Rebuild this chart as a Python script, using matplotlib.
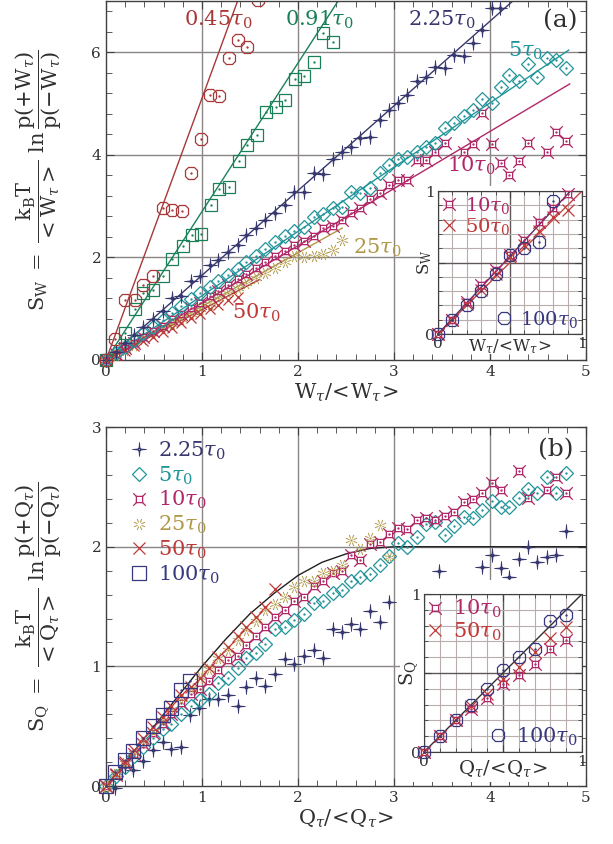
import numpy as np
import matplotlib
matplotlib.use('Agg')
import matplotlib.pyplot as plt
from matplotlib.path import Path
from matplotlib.patches import Rectangle
from matplotlib.ticker import MultipleLocator

plt.rcParams['font.family'] = ['DejaVu Serif']
plt.rcParams['mathtext.fontset'] = 'dejavuserif'

# colours
C045 = '#a83838'
C091 = '#1a8058'
C225 = '#383870'
C5 = '#20959a'
C10 = '#b02868'
C25 = '#b09848'
C50 = '#c03838'
C100 = '#383880'
GRID = '#8a8686'

# ---------------- panel (a) data ----------------
a045_x = [0, 0.09, 0.2, 0.3, 0.39, 0.49, 0.59, 0.69, 0.79, 0.89, 0.99, 1.08, 1.18, 1.28, 1.37, 1.47, 1.58]
a045_y = [0, 0.4, 1.17, 1.17, 1.46, 1.64, 2.96, 2.93, 2.91, 3.64, 4.3, 5.17, 5.15, 5.88, 6.24, 6.1, 7.02]

a091_x = [0, 0.2, 0.3, 0.39, 0.49, 0.59, 0.69, 0.8, 0.9, 0.99, 1.09, 1.18, 1.28, 1.38, 1.47, 1.57,
          1.67, 1.77, 1.86, 1.97, 2.06, 2.17, 2.26, 2.36]
a091_y = [0, 0.52, 1.0, 1.3, 1.36, 1.64, 1.96, 2.22, 2.44, 2.46, 3.02, 3.33, 3.37, 3.87, 4.19, 4.39,
          4.84, 4.94, 5.07, 5.47, 5.54, 5.8, 6.37, 6.2]

a225_x = [0, 0.1, 0.2, 0.29, 0.39, 0.49, 0.59, 0.69, 0.78, 0.88, 0.98, 1.08, 1.17, 1.27, 1.37, 1.46,
          1.56, 1.66, 1.76, 1.86, 1.96, 2.06, 2.17, 2.26, 2.36, 2.46, 2.55, 2.65, 2.75, 2.85, 2.95,
          3.04, 3.13, 3.24, 3.33, 3.43, 3.53, 3.62, 3.73, 3.82, 3.92, 4.02, 4.1]
a225_y = [0, 0.16, 0.33, 0.49, 0.64, 0.8, 0.96, 1.2, 1.25, 1.53, 1.64, 1.85, 1.95, 2.11, 2.24, 2.44,
          2.58, 2.72, 2.86, 3.02, 3.28, 3.28, 3.64, 3.63, 3.91, 4.06, 4.16, 4.32, 4.35, 4.68, 4.87,
          5.0, 5.17, 5.43, 5.51, 5.72, 5.69, 5.95, 5.93, 6.17, 6.43, 6.86, 6.86]

a5_x = [0, 0.1, 0.2, 0.29, 0.39, 0.49, 0.59, 0.69, 0.78, 0.88, 0.98, 1.08, 1.17, 1.27, 1.37, 1.46,
        1.56, 1.66, 1.76, 1.86, 1.96, 2.06, 2.17, 2.26, 2.36, 2.46, 2.55, 2.65, 2.75, 2.85, 2.95,
        3.04, 3.13, 3.24, 3.33, 3.43, 3.53, 3.62, 3.73, 3.82, 3.92, 4.02, 4.11, 4.2, 4.3, 4.4,
        4.49, 4.59, 4.69, 4.79]
a5_y = [0, 0.13, 0.26, 0.39, 0.52, 0.65, 0.78, 0.92, 1.05, 1.18, 1.3, 1.42, 1.53, 1.65, 1.78, 1.9,
        2.02, 2.16, 2.3, 2.42, 2.52, 2.6, 2.79, 2.85, 2.96, 2.99, 3.27, 3.25, 3.35, 3.64, 3.8,
        3.91, 3.96, 4.06, 4.16, 4.22, 4.52, 4.61, 4.76, 4.87, 5.08, 5.0, 5.33, 5.56, 5.43, 5.77,
        5.52, 5.88, 5.85, 5.69]

a10_x = [0, 0.1, 0.2, 0.29, 0.39, 0.49, 0.59, 0.69, 0.78, 0.88, 0.98, 1.08, 1.17, 1.27, 1.37, 1.46,
         1.56, 1.66, 1.76, 1.86, 1.96, 2.06, 2.17, 2.26, 2.36, 2.46, 2.55, 2.65, 2.75, 2.85, 2.95,
         3.04, 3.13, 3.24, 3.33, 3.43, 3.53, 3.73, 3.82, 3.92, 4.02, 4.11, 4.2, 4.3, 4.4, 4.59,
         4.69, 4.79]
a10_y = [0, 0.11, 0.23, 0.34, 0.45, 0.56, 0.67, 0.79, 0.9, 1.01, 1.12, 1.24, 1.35, 1.46, 1.57, 1.68,
         1.79, 1.9, 2.02, 2.13, 2.24, 2.31, 2.41, 2.57, 2.61, 2.73, 2.86, 2.96, 3.13, 3.25, 3.41,
         3.51, 3.51, 3.9, 3.9, 4.06, 4.22, 4.06, 4.21, 4.81, 4.2, 3.83, 3.61, 3.87, 4.22, 4.06,
         4.45, 4.26]

a25_x = [0, 0.1, 0.2, 0.29, 0.39, 0.49, 0.59, 0.69, 0.78, 0.88, 0.98, 1.08, 1.17, 1.27, 1.37, 1.46,
         1.56, 1.66, 1.76, 1.86, 1.96, 2.06, 2.17, 2.26, 2.36, 2.46]
a25_y = [0, 0.1, 0.2, 0.3, 0.4, 0.5, 0.6, 0.71, 0.8, 0.9, 1.0, 1.1, 1.2, 1.3, 1.4, 1.5,
         1.6, 1.7, 1.8, 1.9, 2.02, 2.0, 2.03, 2.06, 2.14, 2.33]

a50_x = [0, 0.1, 0.2, 0.29, 0.39, 0.49, 0.59, 0.69, 0.78, 0.88, 0.98, 1.08, 1.17, 1.27, 1.37]
a50_y = [0, 0.09, 0.18, 0.27, 0.36, 0.45, 0.54, 0.63, 0.72, 0.81, 0.9, 0.99, 1.08, 1.17, 1.22]

# straight-line fits (end points)
fit045 = ([0, 1.42], [0, 7.25])
fit091 = ([0, 2.47], [0, 7.15])
fit225 = ([0, 4.3], [0, 7.1])
fit5 = ([0, 4.82], [0, 6.04])
fit10 = ([0, 4.83], [0, 5.38])
fit25 = ([0, 2.46], [0, 2.57])
fit50 = ([0, 1.6], [0, 1.57])

# inset (a)
ia_x = [0, 0.1, 0.2, 0.3, 0.4, 0.5, 0.6, 0.7, 0.8, 0.9]
ia10_y = [0, 0.1, 0.225, 0.34, 0.45, 0.555, 0.66, 0.78, 0.88, 0.98]
ia50_y = [0, 0.1, 0.21, 0.31, 0.42, 0.54, 0.62, 0.72, 0.82, 0.87]
ia100_x = [0, 0.1, 0.2, 0.3, 0.4, 0.5, 0.6, 0.7, 0.8]
ia100_y = [0, 0.1, 0.2, 0.3, 0.42, 0.55, 0.6, 0.64, 0.93]
ia_line1 = ([0, 1.0], [0, 1.0])
ia_line2 = ([0, 0.92], [0, 1.0])

# ---------------- panel (b) data ----------------
b225_x = [0.09, 0.2, 0.28, 0.39, 0.49, 0.59, 0.68, 0.78, 0.87, 0.97, 1.07, 1.17, 1.27, 1.37, 1.46,
          1.56, 1.66, 1.76, 1.86, 1.96, 2.06, 2.17, 2.26, 2.36, 2.46, 2.55, 2.65, 2.75, 2.85, 2.95,
          3.47, 3.92, 4.02, 4.11, 4.2, 4.3, 4.4, 4.49, 4.59, 4.69, 4.79]
b225_y = [-0.02, 0.16, 0.13, 0.21, 0.3, 0.37, 0.31, 0.33, 0.59, 0.65, 0.73, 0.73, 0.76, 0.67, 0.83,
          0.9, 0.84, 0.94, 1.06, 1.02, 1.09, 1.14, 1.07, 1.31, 1.29, 1.35, 1.31, 1.46, 1.37, 1.54,
          1.8, 1.83, 1.93, 1.82, 1.75, 1.9, 2.0, 1.87, 1.91, 1.93, 2.13]

b5_x = [0, 0.1, 0.2, 0.29, 0.39, 0.49, 0.59, 0.68, 0.78, 0.88, 0.98, 1.07, 1.17, 1.27, 1.37, 1.46,
        1.56, 1.66, 1.76, 1.86, 1.96, 2.06, 2.17, 2.26, 2.36, 2.46, 2.55, 2.65, 2.75, 2.85, 2.95,
        3.04, 3.13, 3.24, 3.33, 3.43, 3.53, 3.62, 3.73, 3.82, 3.92, 4.02, 4.11, 4.2, 4.3, 4.4,
        4.49, 4.59, 4.69, 4.79]
b5_y = [0, 0.08, 0.16, 0.25, 0.33, 0.4, 0.48, 0.52, 0.6, 0.67, 0.72, 0.77, 0.86, 0.9, 0.99, 1.07,
        1.11, 1.19, 1.31, 1.33, 1.39, 1.44, 1.53, 1.55, 1.61, 1.64, 1.71, 1.75, 1.77, 1.85, 1.92,
        2.03, 2.0, 2.08, 2.19, 2.21, 2.1, 2.17, 2.25, 2.24, 2.31, 2.38, 2.33, 2.33, 2.41, 2.48,
        2.45, 2.58, 2.45, 2.62]

b10_x = [0, 0.1, 0.2, 0.29, 0.39, 0.49, 0.59, 0.68, 0.78, 0.88, 0.98, 1.07, 1.17, 1.27, 1.37, 1.46,
         1.56, 1.66, 1.76, 1.86, 1.96, 2.06, 2.17, 2.26, 2.36, 2.46, 2.55, 2.65, 2.75, 2.85, 2.95,
         3.04, 3.13, 3.24, 3.33, 3.43, 3.53, 3.62, 3.73, 3.82, 3.92, 4.02, 4.11, 4.3, 4.4, 4.59,
         4.69, 4.79]
b10_y = [0, 0.09, 0.18, 0.27, 0.35, 0.44, 0.52, 0.6, 0.69, 0.77, 0.81, 0.88, 0.97, 1.05, 1.09, 1.18,
         1.25, 1.33, 1.41, 1.47, 1.55, 1.58, 1.67, 1.71, 1.78, 1.8, 1.93, 1.89, 2.02, 2.04, 2.11,
         2.16, 2.15, 2.22, 2.24, 2.22, 2.26, 2.29, 2.37, 2.4, 2.45, 2.53, 2.47, 2.63, 2.41, 2.47,
         2.58, 2.45]

b25_x = [0, 0.1, 0.2, 0.29, 0.39, 0.49, 0.59, 0.68, 0.78, 0.88, 0.98, 1.07, 1.17, 1.27, 1.37, 1.46,
         1.56, 1.66, 1.76, 1.86, 1.96, 2.06, 2.17, 2.26, 2.36, 2.46, 2.55, 2.65, 2.75, 2.85, 2.95]
b25_y = [0, 0.1, 0.19, 0.28, 0.37, 0.46, 0.55, 0.64, 0.73, 0.82, 0.91, 0.98, 1.07, 1.14, 1.22, 1.3,
         1.38, 1.47, 1.52, 1.58, 1.66, 1.71, 1.71, 1.78, 1.8, 1.85, 2.06, 1.98, 2.07, 2.18, 1.91]

b50_x = [0, 0.1, 0.2, 0.29, 0.39, 0.49, 0.59, 0.68, 0.78, 0.88, 0.98, 1.07, 1.17, 1.27, 1.37, 1.46,
         1.56, 1.66, 1.76]
b50_y = [0, 0.1, 0.2, 0.3, 0.4, 0.49, 0.58, 0.67, 0.76, 0.83, 0.9, 0.99, 1.08, 1.16, 1.25, 1.33,
         1.41, 1.5, 1.65]

b100_x = [0, 0.09, 0.2, 0.28, 0.39, 0.49, 0.59, 0.68, 0.78, 0.87]
b100_y = [0, 0.12, 0.22, 0.29, 0.4, 0.5, 0.59, 0.65, 0.8, 0.88]

# theory curve
theo_x = [0, 0.25, 0.5, 0.75, 1.0, 1.25, 1.5, 1.75, 2.0, 2.25, 2.5, 2.75, 3.0, 5.0]
theo_y = [0, 0.25, 0.5, 0.75, 1.0, 1.23, 1.44, 1.61, 1.76, 1.87, 1.94, 1.985, 2.0, 2.0]

# inset (b)
ib_x = [0, 0.1, 0.2, 0.3, 0.4, 0.5, 0.6, 0.7, 0.8, 0.9]
ib100_y = [0, 0.1, 0.2, 0.3, 0.4, 0.52, 0.6, 0.65, 0.83, 0.87]
ib10_y = [0, 0.1, 0.2, 0.27, 0.34, 0.43, 0.49, 0.56, 0.65, 0.71]
ib50_y = [0, 0.1, 0.2, 0.29, 0.37, 0.46, 0.54, 0.63, 0.72, 0.79]
ib_line = ([0, 1], [0, 1])

# ---------------- markers ----------------
M, L, C = Path.MOVETO, Path.LINETO, Path.CLOSEPOLY
sq_corner = Path([(-.5, -.5), (.5, -.5), (.5, .5), (-.5, .5), (-.5, -.5),
                  (.5, .5), (1, 1), (-.5, .5), (-1, 1), (-.5, -.5), (-1, -1), (.5, -.5), (1, -1)],
                 [M, L, L, L, C, M, L, M, L, M, L, M, L])
star4 = Path([(0, 1), (.08, .08), (1, 0), (.08, -.08), (0, -1), (-.08, -.08), (-1, 0), (-.08, .08), (0, 1),
              (0, .26), (.26, 0), (0, -.26), (-.26, 0), (0, .26)],
             [M, L, L, L, L, L, L, L, C, M, L, L, L, C])
bv, bc = [], []
for k in range(8):
    a = k * np.pi / 4 + np.pi / 8
    bv += [(0.35 * np.cos(a), 0.35 * np.sin(a)), (np.cos(a), np.sin(a))]
    bc += [M, L]
burst = Path(bv, bc)


def pts(ax, x, y, marker, color, ms, label=None, mew=0.9):
    h, = ax.plot(x, y, ls='none', marker=marker, ms=ms, mfc='none', mec=color,
                 mew=mew, label=label, clip_on=False, zorder=3)
    ax.plot(x, y, ls='none', marker='.', ms=1.4, color=color, clip_on=False, zorder=3)
    return h


def style_main(ax, ymax, ymajor, yminor, ygrid):
    ax.set_xlim(0, 5)
    ax.set_ylim(0, ymax)
    ax.xaxis.set_major_locator(MultipleLocator(1))
    ax.xaxis.set_minor_locator(MultipleLocator(0.2))
    ax.yaxis.set_major_locator(MultipleLocator(ymajor))
    ax.yaxis.set_minor_locator(MultipleLocator(yminor))
    ax.tick_params(which='both', direction='in', top=True, right=True, colors='#404040',
                   labelsize=11, labelcolor='#303030')
    ax.tick_params(which='major', length=6)
    ax.tick_params(which='minor', length=4)
    for s in ax.spines.values():
        s.set_color('#404040')
        s.set_linewidth(1.0)
    for gx in [1, 2, 3, 4]:
        ax.axvline(gx, color=GRID, lw=1.0, zorder=1)
    for gy in ygrid:
        ax.axhline(gy, color=GRID, lw=1.0, zorder=1)


def style_inset(ax):
    ax.set_xlim(0, 1)
    ax.set_ylim(0, 1)
    ax.set_xticks([0, 0.5, 1])
    ax.set_yticks([0, 0.5, 1])
    ax.set_xticklabels(['0', '', '1'])
    ax.set_yticklabels(['0', '', '1'])
    ax.xaxis.set_minor_locator(MultipleLocator(0.1))
    ax.yaxis.set_minor_locator(MultipleLocator(0.1))
    ax.tick_params(which='both', direction='in', top=True, right=True, colors='#404040',
                   labelsize=11, labelcolor='#303030', pad=2)
    ax.tick_params(which='major', length=5)
    ax.tick_params(which='minor', length=3)
    ax.grid(which='minor', color='#b8aeae', lw=0.8, zorder=0)
    ax.grid(which='major', color='#605858', lw=1.0, zorder=0)
    for s in ax.spines.values():
        s.set_color('#404040')
    ax.set_axisbelow(True)


fig = plt.figure(figsize=(6.13, 8.44), dpi=100)
axa = fig.add_axes([0.173, 0.5735, 0.783, 0.4255])
axb = fig.add_axes([0.173, 0.0687, 0.783, 0.4253])

# ---------------- panel (a) ----------------
style_main(axa, 7, 2, 0.4, [2, 4, 6])
for (fx, fy), c in [(fit045, C045), (fit091, C091), (fit225, C225), (fit5, C5),
                    (fit10, C10), (fit25, C25), (fit50, '#a02828')]:
    axa.plot(fx, fy, color=c, lw=1.0, zorder=2)
pts(axa, a25_x, a25_y, burst, C25, 8, mew=0.7)
pts(axa, a50_x, a50_y, 'x', C50, 7.5)
pts(axa, a10_x, a10_y, sq_corner, C10, 9)
pts(axa, a5_x, a5_y, 'D', C5, 7)
pts(axa, a225_x, a225_y, star4, C225, 10, mew=0.6)
pts(axa, a091_x, a091_y, 's', C091, 8.5)
pts(axa, a045_x[:-1], a045_y[:-1], '8', C045, 10)
axa.plot(a045_x[-1:], a045_y[-1:], ls='none', marker='8', ms=10, mfc='none', mec=C045, mew=0.9)

tfs = 15
axa.text(1.17, 6.62, r'$0.45\tau_0$', color=C045, fontsize=tfs, ha='center', va='center')
axa.text(2.22, 6.62, r'$0.91\tau_0$', color=C091, fontsize=tfs, ha='center', va='center')
axa.text(3.5, 6.62, r'$2.25\tau_0$', color=C225, fontsize=tfs, ha='center', va='center')
axa.text(4.37, 6.03, r'$5\tau_0$', color=C5, fontsize=tfs, ha='center', va='center')
axa.text(3.8, 3.78, r'$10\tau_0$', color=C10, fontsize=tfs, ha='center', va='center')
axa.text(2.83, 2.18, r'$25\tau_0$', color=C25, fontsize=tfs, ha='center', va='center')
axa.text(1.56, 0.92, r'$50\tau_0$', color=C50, fontsize=tfs, ha='center', va='center')
axa.text(4.73, 6.62, '(a)', color='#303030', fontsize=18, ha='center', va='center')

axa.set_xlabel(r'$\mathrm{W}_\tau/\!<\!\mathrm{W}_\tau\!>$', fontsize=15, color='#303030', labelpad=2)
axa.set_ylabel(r'$\mathrm{S_W}\ =\ \dfrac{\mathrm{k_B T}}{<\mathrm{W}_\tau>}\ \ln\dfrac{\mathrm{p}(+\mathrm{W}_\tau)}{\mathrm{p}(-\mathrm{W}_\tau)}$',
               fontsize=15, color='#303030')
axa.yaxis.set_label_coords(-0.088, 0.5)

# ---------------- panel (b) ----------------
style_main(axb, 3, 1, 0.2, [1, 2])
axb.plot(theo_x, theo_y, color='#202020', lw=1.0, zorder=2)
h225 = pts(axb, b225_x, b225_y, star4, C225, 10, label=r'$2.25\tau_0$', mew=0.6)
h5 = pts(axb, b5_x, b5_y, 'D', C5, 7, label=r'$5\tau_0$')
h10 = pts(axb, b10_x, b10_y, sq_corner, C10, 9, label=r'$10\tau_0$')
h25 = pts(axb, b25_x, b25_y, burst, C25, 8, label=r'$25\tau_0$', mew=0.7)
h50 = pts(axb, b50_x, b50_y, 'x', C50, 8, label=r'$50\tau_0$')
h100 = pts(axb, b100_x, b100_y, 's', C100, 10, label=r'$100\tau_0$')
axb.legend(handles=[h225, h5, h10, h25, h50, h100], loc='upper left', frameon=False,
           fontsize=15, labelcolor='markeredgecolor', handlelength=0.8, handletextpad=0.5,
           labelspacing=0.12, borderaxespad=0.2, bbox_to_anchor=(0.025, 1.0))
axb.text(4.68, 2.81, '(b)', color='#303030', fontsize=18, ha='center', va='center')
axb.set_xlabel(r'$\mathrm{Q}_\tau/\!<\!\mathrm{Q}_\tau\!>$', fontsize=15, color='#303030', labelpad=2)
axb.set_ylabel(r'$\mathrm{S_Q}\ =\ \dfrac{\mathrm{k_B T}}{<\mathrm{Q}_\tau>}\ \ln\dfrac{\mathrm{p}(+\mathrm{Q}_\tau)}{\mathrm{p}(-\mathrm{Q}_\tau)}$',
               fontsize=15, color='#303030')
axb.yaxis.set_label_coords(-0.088, 0.5)

# white areas behind the insets
fig.patches.append(Rectangle((420 / 613, 1 - 354 / 844), 161 / 613, 168 / 844,
                             transform=fig.transFigure, facecolor='white', edgecolor='none', zorder=1))
fig.patches.append(Rectangle((400 / 613, 1 - 782 / 844), 181 / 613, 202 / 844,
                             transform=fig.transFigure, facecolor='white', edgecolor='none', zorder=1))

# ---------------- inset (a) ----------------
ia = fig.add_axes([438 / 613, 1 - 334 / 844, 144 / 613, 143 / 844])
ia.set_zorder(2)
style_inset(ia)
ia.plot(*ia_line1, color='#c04848', lw=1.0, zorder=2)
ia.plot(*ia_line2, color='#583058', lw=1.0, zorder=2)
i10 = pts(ia, ia_x, ia10_y, sq_corner, C10, 9, label=r'$10\tau_0$')
i50 = pts(ia, ia_x, ia50_y, 'x', C50, 8, label=r'$50\tau_0$')
i100 = pts(ia, ia100_x, ia100_y, '8', C100, 10, label=r'$100\tau_0$')
lg1 = ia.legend(handles=[i10, i50], loc='upper left', frameon=False, fontsize=14,
                labelcolor='markeredgecolor', handlelength=0.7, handletextpad=0.5,
                labelspacing=0.0, borderaxespad=0.1, borderpad=0.1)
ia.add_artist(lg1)
ia.legend(handles=[i100], loc='lower right', frameon=False, fontsize=14,
          labelcolor='markeredgecolor', handlelength=0.7, handletextpad=0.5,
          borderaxespad=0.1, borderpad=0.1)
ia.set_xlabel(r'$\mathrm{W}_\tau/\!<\!\mathrm{W}_\tau\!>$', fontsize=12, color='#303030', labelpad=-10)
ia.set_ylabel(r'$\mathrm{S_W}$', fontsize=12, color='#303030', labelpad=-6)

# ---------------- inset (b) ----------------
ib = fig.add_axes([424 / 613, 1 - 752 / 844, 158 / 613, 158 / 844])
ib.set_zorder(2)
style_inset(ib)
ib.plot(*ib_line, color='#303030', lw=1.0, zorder=2)
j10 = pts(ib, ib_x, ib10_y, sq_corner, C10, 9, label=r'$10\tau_0$')
j50 = pts(ib, ib_x, ib50_y, 'x', C50, 8, label=r'$50\tau_0$')
j100 = pts(ib, ib_x, ib100_y, '8', C100, 10, label=r'$100\tau_0$')
lg2 = ib.legend(handles=[j10, j50], loc='upper left', frameon=False, fontsize=15,
                labelcolor='markeredgecolor', handlelength=0.7, handletextpad=0.5,
                labelspacing=0.0, borderaxespad=0.1, borderpad=0.1)
ib.add_artist(lg2)
ib.legend(handles=[j100], loc='lower right', frameon=False, fontsize=15,
          labelcolor='markeredgecolor', handlelength=0.7, handletextpad=0.5,
          borderaxespad=0.1, borderpad=0.1)
ib.set_xlabel(r'$\mathrm{Q}_\tau/\!<\!\mathrm{Q}_\tau\!>$', fontsize=14, color='#303030', labelpad=-8)
ib.set_ylabel(r'$\mathrm{S_Q}$', fontsize=14, color='#303030', labelpad=-6)

fig.savefig('out.png', dpi=100)
